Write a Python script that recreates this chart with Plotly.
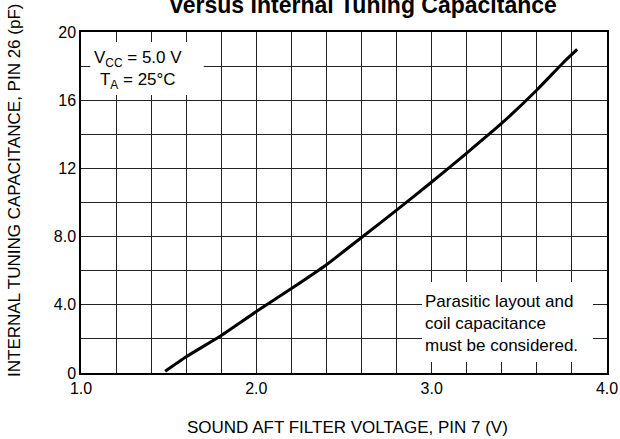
import plotly.graph_objects as go

# Data
voltage = [1.48, 1.6, 1.8, 2.0, 2.2, 2.4, 2.6, 2.8, 3.0, 3.2, 3.4, 3.6, 3.75, 3.83]
capacitance = [0.1, 0.95, 2.2, 3.6, 4.95, 6.35, 7.95, 9.55, 11.2, 12.9, 14.65, 16.6, 18.2, 18.98]

x_ticks = [round(1.0 + 0.2 * i, 1) for i in range(16)]
x_labels = ["1.0", "", "", "", "", "2.0", "", "", "", "", "3.0", "", "", "", "", "4.0"]
y_ticks = list(range(0, 21, 2))
y_labels = ["0", "", "4.0", "", "8.0", "", "12", "", "16", "", "20"]

FONT = "Liberation Sans, Arial, sans-serif"

L, R, T, B = 81, 13, 32, 66
W, H = 620, 439
PW, PH = W - L - R, H - T - B

def px(xp):
    return (xp - L) / PW

def py(yp):
    return (H - B - yp) / PH

fig = go.Figure()
fig.add_trace(go.Scatter(x=voltage, y=capacitance, mode="lines",
                         line=dict(color="black", width=3, shape="spline", smoothing=0.5),
                         hoverinfo="skip", showlegend=False))

axis_common = dict(showgrid=True, gridcolor="#222", gridwidth=1,
                   showline=True, linecolor="black", linewidth=1.5, mirror=True,
                   zeroline=False, ticks="", ticklen=0, automargin=False,
                   tickfont=dict(size=16, family=FONT))

fig.update_layout(
    width=W, height=H,
    margin=dict(l=L, r=R, t=T, b=B),
    paper_bgcolor="white", plot_bgcolor="white",
    font=dict(family=FONT, size=16, color="black"),
    showlegend=False,
    xaxis=dict(range=[1.0, 4.0], tickvals=x_ticks, ticktext=x_labels, **axis_common),
    yaxis=dict(range=[0, 20], tickvals=y_ticks, ticktext=y_labels, **axis_common),
)

# White boxes behind the notes (between grid and traces)
fig.add_shape(type="rect", xref="x", yref="y", x0=1.053, x1=1.70, y0=16.3, y1=19.41,
              fillcolor="white", line=dict(width=0), layer="between")
fig.add_shape(type="rect", xref="x", yref="y", x0=2.945, x1=3.92, y0=0.65, y1=5.34,
              fillcolor="white", line=dict(width=0), layer="between")

fig.add_annotation(x=1.327, y=17.8, xref="x", yref="y", showarrow=False,
                   text="V<sub>CC</sub> = 5.0 V<br>T<sub>A</sub> = 25°C",
                   align="center", font=dict(size=17, family=FONT))
fig.add_annotation(x=2.95, y=2.9, xref="x", yref="y", showarrow=False,
                   xanchor="left", yanchor="middle",
                   text="Parasitic layout and<br>coil capacitance<br>must be considered.",
                   align="left", font=dict(size=17, family=FONT))

fig.add_annotation(x=px(363), y=py(5), xref="paper", yref="paper", showarrow=False,
                   yanchor="middle",
                   text="<b>versus Internal Tuning Capacitance</b>", font=dict(size=23, family=FONT))
fig.add_annotation(x=px(347), y=py(427), xref="paper", yref="paper", showarrow=False,
                   yanchor="middle",
                   text="SOUND AFT FILTER VOLTAGE, PIN 7 (V)", font=dict(size=17, family=FONT))
fig.add_annotation(x=px(14), y=py(191), xref="paper", yref="paper", showarrow=False,
                   xanchor="center", textangle=-90,
                   text="INTERNAL TUNING CAPACITANCE, PIN 26 (pF)", font=dict(size=17, family=FONT))

fig.write_html("out.html", config={"displayModeBar": False},
               post_script="document.body.style.margin='0';")
